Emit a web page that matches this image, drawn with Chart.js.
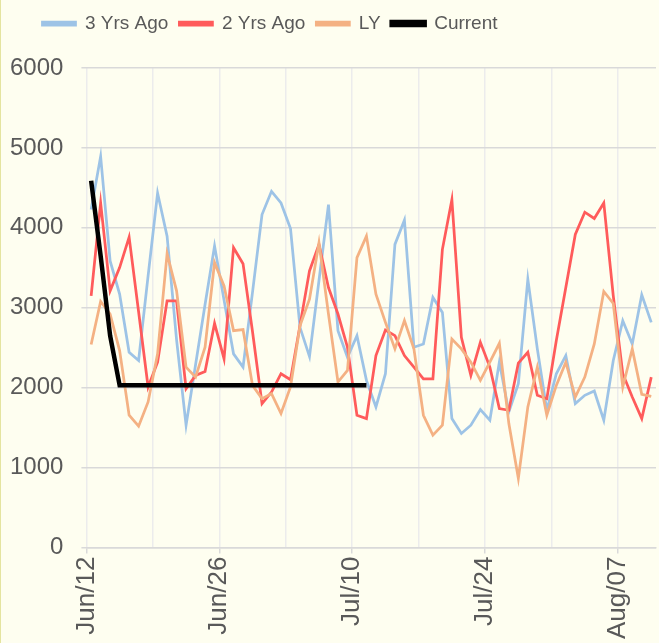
<!DOCTYPE html>
<html>
<head>
<meta charset="utf-8">
<script src="https://cdn.jsdelivr.net/npm/chart.js"></script>
<style>
  body { margin: 0; background: #fefef0; }
  #wrap { width: 659px; height: 643px; box-sizing: border-box; border-left: 1px solid #e4e4a0; }
</style>
</head>
<body>
<div id="wrap"><canvas id="myChart" width="658" height="643"></canvas></div>
<script>
// one entry per day, Jun/12 .. Aug/10
const days = ['Jun/12','Jun/13','Jun/14','Jun/15','Jun/16','Jun/17','Jun/18','Jun/19','Jun/20','Jun/21',
  'Jun/22','Jun/23','Jun/24','Jun/25','Jun/26','Jun/27','Jun/28','Jun/29','Jun/30','Jul/01',
  'Jul/02','Jul/03','Jul/04','Jul/05','Jul/06','Jul/07','Jul/08','Jul/09','Jul/10','Jul/11',
  'Jul/12','Jul/13','Jul/14','Jul/15','Jul/16','Jul/17','Jul/18','Jul/19','Jul/20','Jul/21',
  'Jul/22','Jul/23','Jul/24','Jul/25','Jul/26','Jul/27','Jul/28','Jul/29','Jul/30','Jul/31',
  'Aug/01','Aug/02','Aug/03','Aug/04','Aug/05','Aug/06','Aug/07','Aug/08','Aug/09','Aug/10'];

const threeYrsAgo = [4229,4893,3586,3171,2444,2341,3400,4436,3897,2600,
  1531,2287,3042,3772,3096,2424,2258,3196,4167,4457,
  4312,3992,2756,2390,3341,4291,2714,2382,2652,2092,
  1760,2175,3793,4096,2507,2548,3129,2942,1614,1428,
  1531,1726,1594,2320,1697,2050,3357,2486,1718,2175,
  2403,1801,1905,1959,1594,2341,2839,2548,3162,2818];

const twoYrsAgo = [3150,4312,3212,3503,3884,2950,2009,2320,3088,3088,
  1988,2154,2204,2805,2361,3752,3552,2700,1801,1946,
  2175,2100,2780,3461,3793,3254,2922,2507,1656,1614,
  2403,2722,2652,2403,2258,2112,2112,3731,4353,2631,
  2154,2569,2258,1739,1718,2307,2444,1905,1863,2590,
  3254,3918,4196,4117,4312,3150,2175,1884,1614,2133];

const lastYear = [2540,3079,2922,2465,1656,1519,1822,2424,3677,3212,
  2258,2133,2507,3565,3274,2714,2727,2029,1863,1926,
  1677,2009,2776,3108,3814,2922,2071,2216,3627,3897,
  3171,2818,2486,2839,2486,1656,1407,1531,2610,2486,
  2320,2092,2320,2556,1552,867,1760,2258,1656,2029,
  2320,1884,2133,2548,3204,3054,2009,2486,1917,1892];

const current = [4590,3650,2650,2030,2030,2030,2030,2030,2030,2030,
  2030,2030,2030,2030,2030,2030,2030,2030,2030,2030,
  2030,2030,2030,2030,2030,2030,2030,2030,2030,2030];

const labeledTicks = [0, 14, 28, 42, 56]; // Jun/12, Jun/26, Jul/10, Jul/24, Aug/07

function pts(arr) {
  return arr.map((v, i) => ({ x: i + 0.5, y: v }));
}

const grey = '#595959';
const axisFont = { family: 'Liberation Sans', size: 24 };
const xFont = { family: 'Liberation Sans', size: 26 };
const legendFont = { family: 'Liberation Sans', size: 19 };

// legend: more room below it, and sits left of centre like the original
const legendTweak = {
  id: 'legendTweak',
  beforeInit(chart) {
    const lg = chart.legend;
    const fit = lg.fit;
    lg.fit = function () {
      fit.call(this);
      this.height += 25;
    };
    const draw = lg.draw;
    lg.draw = function () {
      const ctx = this.ctx;
      ctx.save();
      ctx.translate(-54, 0);
      draw.call(this);
      ctx.restore();
    };
  }
};

new Chart(document.getElementById('myChart'), {
  type: 'line',
  data: {
    datasets: [
      { label: 'Current', data: pts(current), borderColor: '#000000', backgroundColor: '#000000', borderWidth: 4.5 },
      { label: 'LY', data: pts(lastYear), borderColor: '#f4b183', backgroundColor: '#f4b183', borderWidth: 2.75 },
      { label: '2 Yrs Ago', data: pts(twoYrsAgo), borderColor: '#ff5b5b', backgroundColor: '#ff5b5b', borderWidth: 2.75 },
      { label: '3 Yrs Ago', data: pts(threeYrsAgo), borderColor: '#9dc3e6', backgroundColor: '#9dc3e6', borderWidth: 2.75 }
    ]
  },
  plugins: [legendTweak],
  options: {
    responsive: false,
    devicePixelRatio: 1,
    animation: false,
    elements: { point: { radius: 0 }, line: { tension: 0 } },
    layout: { padding: { left: -9, right: 3, top: 3, bottom: 1 } },
    plugins: {
      legend: {
        reverse: true,
        labels: { color: grey, font: legendFont, boxWidth: 33, boxHeight: 3, padding: 11 }
      },
      tooltip: { enabled: false }
    },
    scales: {
      x: {
        type: 'linear',
        min: 0,
        max: 60,
        grid: {
          color: '#ececec',
          lineWidth: 1.5,
          tickLength: 6,
          tickColor: ctx => labeledTicks.includes(ctx.tick.value) ? '#d9d9d9' : 'rgba(0,0,0,0)'
        },
        border: { color: '#d9d9d9', width: 1.5 },
        ticks: {
          stepSize: 7,
          includeBounds: false,
          autoSkip: false,
          minRotation: 90,
          maxRotation: 90,
          color: grey,
          font: xFont,
          padding: 3,
          callback: v => labeledTicks.includes(v) ? days[v] : ''
        }
      },
      y: {
        min: 0,
        max: 6000,
        grid: { color: '#d9d9d9', lineWidth: 1.5, tickLength: 5 },
        border: { display: false },
        ticks: { stepSize: 1000, color: grey, font: axisFont, padding: 18, callback: v => String(v) }
      }
    }
  }
});
</script>
</body>
</html>
